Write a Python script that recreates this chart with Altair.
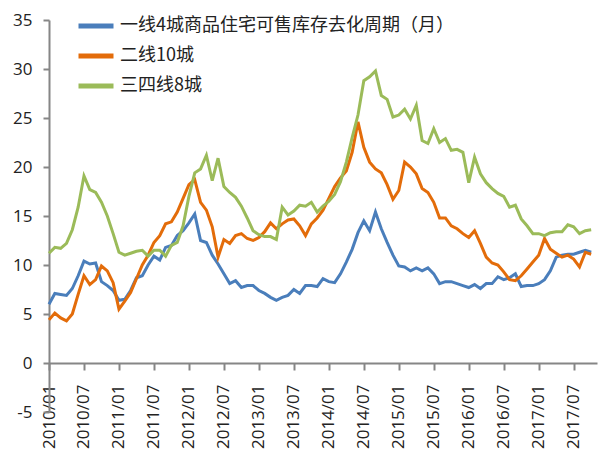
import altair as alt
import pandas as pd

series_names = ["一线4城商品住宅可售库存去化周期（月）", "二线10城", "三四线8城"]
colors = ["#4A7EBB", "#E36C0A", "#9BBB59"]

# months 2010/01 .. 2017/10 (index 0..93)
tier1 = [6.0, 7.1, 7.0, 6.9, 7.6, 8.9, 10.4, 10.1, 10.2, 8.3, 7.9, 7.4,
         6.4, 6.5, 7.4, 8.7, 8.9, 10.0, 10.9, 10.5, 11.8, 12.0, 13.0, 13.5,
         14.3, 15.2, 12.5, 12.3, 11.0, 10.1, 9.1, 8.1, 8.4, 7.7, 7.9, 7.9,
         7.4, 7.1, 6.7, 6.4, 6.7, 6.9, 7.5, 7.1, 7.9, 7.9, 7.8, 8.6,
         8.3, 8.2, 9.1, 10.3, 11.6, 13.3, 14.5, 13.5, 15.4, 13.7, 12.3, 11.0,
         9.9, 9.8, 9.4, 9.7, 9.4, 9.7, 9.1, 8.1, 8.3, 8.3, 8.1, 7.9,
         7.7, 8.0, 7.6, 8.1, 8.1, 8.8, 8.5, 8.7, 9.1, 7.8, 7.9, 7.9,
         8.1, 8.5, 9.4, 10.8, 11.0, 11.1, 11.1, 11.3, 11.5, 11.3]
tier2 = [4.4, 5.1, 4.6, 4.3, 5.0, 7.0, 8.9, 8.0, 8.5, 9.9, 9.4, 8.2,
         5.5, 6.3, 7.2, 8.6, 10.0, 11.0, 12.3, 13.0, 14.2, 14.4, 15.4, 16.8,
         18.2, 18.7, 16.4, 15.6, 13.9, 10.8, 12.6, 12.2, 13.0, 13.2, 12.7, 12.5,
         12.8, 13.4, 14.3, 13.7, 14.2, 14.6, 14.7, 14.0, 13.0, 14.2, 14.8, 15.6,
         16.8, 18.0, 18.9, 19.6, 21.5, 24.6, 22.0, 20.5, 19.8, 19.4, 18.2, 16.7,
         17.6, 20.5, 20.0, 19.3, 17.8, 17.4, 16.4, 14.8, 14.8, 14.0, 13.7, 13.2,
         12.8, 13.5, 12.2, 10.8, 10.2, 10.0, 9.3, 8.5, 8.4, 8.9, 9.6, 10.3,
         11.0, 12.7, 11.6, 11.2, 10.8, 11.0, 10.6, 9.8, 11.3, 11.1]
tier3 = [11.2, 11.8, 11.7, 12.2, 13.6, 15.9, 19.1, 17.7, 17.4, 16.4, 15.0, 13.2,
         11.3, 11.0, 11.2, 11.4, 11.5, 10.9, 11.5, 11.5, 10.9, 12.0, 12.3, 14.0,
         17.0, 19.4, 19.8, 21.2, 18.6, 20.9, 18.0, 17.4, 16.9, 16.0, 14.8, 13.5,
         13.1, 12.9, 12.9, 12.6, 15.9, 15.1, 15.5, 16.1, 16.0, 16.4, 15.4, 16.0,
         16.5, 17.2, 18.5, 20.5, 23.0, 25.3, 28.8, 29.2, 29.8, 27.3, 26.9, 25.1,
         25.3, 25.9, 24.9, 26.3, 22.7, 22.4, 23.9, 22.5, 22.9, 21.7, 21.8, 21.5,
         18.4, 21.0, 19.3, 18.4, 17.8, 17.3, 17.0, 15.9, 16.1, 14.7, 14.0, 13.2,
         13.2, 13.0, 13.3, 13.4, 13.4, 14.1, 13.9, 13.2, 13.5, 13.6]

y_ticks = [-5, 0, 5, 10, 15, 20, 25, 30, 35]
x_ticks = list(range(0, 94, 6))

rows = []
for name, vals in zip(series_names, [tier1, tier2, tier3]):
    for i, v in enumerate(vals):
        rows.append({"m": i, "v": v, "s": name})
df = pd.DataFrame(rows)

label_font = "Open Sans"

chart = alt.Chart(df).mark_line(strokeWidth=3).encode(
    x=alt.X("m:Q",
            scale=alt.Scale(domain=[0, 94], nice=False, zero=False),
            axis=alt.Axis(values=x_ticks, title=None, grid=False,
                          labelExpr="toString(2010 + floor(datum.value / 12)) + '/' + (datum.value % 12 == 0 ? '01' : '07')",
                          labelAngle=270, labelFontSize=17, labelFont=label_font,
                          labelColor="#222222", labelPadding=14, tickSize=7,
                          tickColor="#868686", domainColor="#868686",
                          domainWidth=2, tickWidth=2, offset=-49, labelOverlap=False)),
    y=alt.Y("v:Q",
            scale=alt.Scale(domain=[-5, 35], nice=False),
            axis=alt.Axis(values=y_ticks, title=None, grid=False,
                          labelExpr="toString(datum.value)",
                          labelFontSize=17, labelFont=label_font,
                          labelColor="#222222", labelPadding=11, tickSize=6,
                          tickColor="#868686", domainColor="#868686",
                          domainWidth=2, tickWidth=2)),
    color=alt.Color("s:N",
                    scale=alt.Scale(domain=series_names, range=colors),
                    sort=series_names,
                    legend=alt.Legend(title=None, orient="none", legendX=27, legendY=-14,
                                      symbolType="stroke", symbolSize=1225,
                                      symbolStrokeWidth=5, labelFontSize=18,
                                      labelFont="Noto Sans CJK SC", labelColor="#222222",
                                      labelOffset=4, rowPadding=0, labelLimit=0)),
).properties(
    width=548, height=392,
    autosize=alt.AutoSizeParams(type="none"),
    padding={"left": 41, "top": 12, "right": 7, "bottom": 42},
).configure_view(stroke=None)

chart.save("out.html", embed_options={"renderer": "svg", "actions": False})
